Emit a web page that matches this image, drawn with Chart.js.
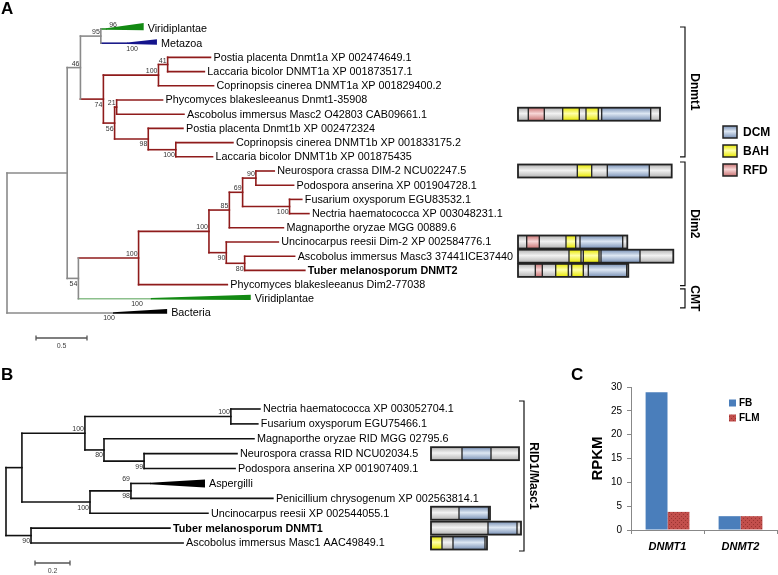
<!DOCTYPE html>
<html>
<head>
<meta charset="utf-8">
<script src="https://cdn.jsdelivr.net/npm/chart.js@4.4.1/dist/chart.umd.min.js"></script>
<style>
  body { margin: 0; background: #fff; }
  #fig { position: relative; width: 778px; height: 575px; overflow: hidden; }
  #fig canvas { position: absolute; }
  .panel { position: absolute; font: bold 17px "Liberation Sans", Arial, sans-serif; line-height: 1; }
</style>
</head>
<body>
<div id="fig">
  <canvas id="treeA" width="778" height="352" style="left:0;top:0"></canvas>
  <canvas id="treeB" width="575" height="215" style="left:0;top:360px"></canvas>
  <canvas id="rpkm" width="203" height="205" style="left:575px;top:370px"></canvas>
  <div class="panel" style="left:1px;top:0px">A</div>
  <div class="panel" style="left:1px;top:366px">B</div>
  <div class="panel" style="left:571px;top:366px">C</div>
</div>
<script>
// Tree A: [id, parent, branch length, bootstrap, collapsed clade length, label]
const treeARows = [
  ['root', null, 0],
  ['n1', 'root', 0.59],
  ['n46', 'n1', 0.13, 46],
  ['n95', 'n46', 0.20, 95],
  ['Viridiplantae', 'n95', 0.05, 96, 0.37],
  ['Metazoa', 'n95', 0.26, 100, 0.29],
  ['n74', 'n46', 0.225, 74],
  ['n100a', 'n74', 0.54, 100],
  ['n41', 'n100a', 0.09, 41],
  ['Postia placenta Dnmt1a XP 002474649.1', 'n41', 0.42],
  ['Laccaria bicolor DNMT1a XP 001873517.1', 'n41', 0.36],
  ['Coprinopsis cinerea DNMT1a XP 001829400.2', 'n100a', 0.54],
  ['n56', 'n74', 0.11, 56],
  ['n21', 'n56', 0.02, 21],
  ['Phycomyces blakesleeanus Dnmt1-35908', 'n21', 0.45],
  ['Ascobolus immersus Masc2 O42803 CAB09661.1', 'n21', 0.66],
  ['n98', 'n56', 0.33, 98],
  ['Postia placenta Dnmt1b XP 002472324', 'n98', 0.34],
  ['n100b', 'n98', 0.27, 100],
  ['Coprinopsis cinerea DNMT1b XP 001833175.2', 'n100b', 0.56],
  ['Laccaria bicolor DNMT1b XP 001875435', 'n100b', 0.36],
  ['n54', 'n1', 0.11, 54],
  ['n100c', 'n54', 0.59, 100],
  ['n100d', 'n100c', 0.69, 100],
  ['n85', 'n100d', 0.20, 85],
  ['n69', 'n85', 0.13, 69],
  ['n90b', 'n69', 0.13, 90],
  ['Neurospora crassa DIM-2 NCU02247.5', 'n90b', 0.18],
  ['Podospora anserina XP 001904728.1', 'n90b', 0.37],
  ['n100e', 'n69', 0.46, 100],
  ['Fusarium oxysporum EGU83532.1', 'n100e', 0.12],
  ['Nectria haematococca XP 003048231.1', 'n100e', 0.19],
  ['Magnaporthe oryzae MGG 00889.6', 'n85', 0.53],
  ['n90', 'n100d', 0.17, 90],
  ['Uncinocarpus reesii Dim-2 XP 002584776.1', 'n90', 0.51],
  ['n80', 'n90', 0.18, 80],
  ['Ascobolus immersus Masc3 37441ICE37440', 'n80', 0.49],
  ['Tuber melanosporum DNMT2', 'n80', 0.59],
  ['Phycomyces blakesleeanus Dim2-77038', 'n100c', 0.87],
  ['cmt', 'n54', 0.71, 100, 0.98, 'Viridiplantae'],
  ['Bacteria', 'root', 1.04, 100, 0.53]
];

// Tree B (RID/Masc1)
const treeBRows = [
  ['root', null, 0],
  ['nX', 'root', 0.091],
  ['n100', 'nX', 0.36, 100],
  ['n100n', 'n100', 0.834, 100],
  ['Nectria haematococca XP 003052704.1', 'n100n', 0.166],
  ['Fusarium oxysporum EGU75466.1', 'n100n', 0.154],
  ['n80', 'n100', 0.109, 80],
  ['Magnaporthe oryzae RID MGG 02795.6', 'n80', 0.857],
  ['n99', 'n80', 0.229, 99],
  ['Neurospora crassa RID NCU02034.5', 'n99', 0.531],
  ['Podospora anserina XP 001907409.1', 'n99', 0.52],
  ['n100b', 'nX', 0.389, 100],
  ['n98', 'n100b', 0.234, 98],
  ['Aspergilli', 'n98', 0.109, 69, 0.314],
  ['Penicillium chrysogenum XP 002563814.1', 'n98', 0.811],
  ['Uncinocarpus reesii XP 002544055.1', 'n100b', 0.674],
  ['nT', 'root', 0.143, 90],
  ['Tuber melanosporum DNMT1', 'nT', 0.794],
  ['Ascobolus immersus Masc1 AAC49849.1', 'nT', 0.869]
];

// domain architectures (residue positions)
const domainLeavesA = ['Ascobolus immersus Masc2 O42803 CAB09661.1', 'Neurospora crassa DIM-2 NCU02247.5',
  'Uncinocarpus reesii Dim-2 XP 002584776.1', 'Ascobolus immersus Masc3 37441ICE37440', 'Tuber melanosporum DNMT2'];
const proteinLengthsA = [1420, 1537, 1093, 1553, 1103];
const domainsA = [
  [['RFD', 103, 263], ['BAH', 447, 613], ['BAH', 680, 803], ['DCM', 837, 1327]],
  [['BAH', 593, 737], ['DCM', 893, 1313]],
  [['RFD', 87, 213], ['BAH', 480, 577], ['DCM', 620, 1047]],
  [['BAH', 510, 630], ['BAH', 653, 810], ['DCM', 830, 1220]],
  [['RFD', 173, 243], ['BAH', 377, 503], ['BAH', 537, 653], ['DCM', 703, 1087]]
];
const domainLeavesB = ['Neurospora crassa RID NCU02034.5', 'Uncinocarpus reesii XP 002544055.1',
  'Tuber melanosporum DNMT1', 'Ascobolus immersus Masc1 AAC49849.1'];
const proteinLengthsB = [880, 590, 900, 560];
const domainsB = [
  [['DCM', 310, 600]],
  [['DCM', 280, 575]],
  [['DCM', 570, 860]],
  [['BAH', 0, 110], ['DCM', 220, 540]]
];

const groupsA = ['Dnmt1', 'Dim2', 'CMT'];
const groupLeafRangesA = [[0, 9], [10, 18], [19, 19]];
const groupsB = ['RID1/Masc1'];
const groupLeafRangesB = [[0, 9]];
const domainTypes = ['DCM', 'BAH', 'RFD'];
const scaleBarA = 0.5;
const scaleBarB = 0.2;

// Panel C
const genes = ['DNMT1', 'DNMT2'];
const fbValues = [28.9, 2.9];
const flmValues = [3.8, 2.9];

const FONT = '"Liberation Sans", Arial, Helvetica, sans-serif';
Chart.defaults.font.family = FONT;

const GRAY = '#8a8a8a';
const RED = '#8f1b1b';
const DOMAIN_FILL = {
  gray: ['#b2b2b2', '#f2f2f2'],
  DCM: ['#7890b5', '#dde7f3'],
  BAH: ['#e6e600', '#ffffa8'],
  RFD: ['#c87272', '#f7d6d6']
};

function buildTree(rows) {
  const byId = {};
  const order = rows.map(r => {
    const n = { id: r[0], parentId: r[1], len: r[2], support: r[3] == null ? null : r[3],
      tri: r[4] || 0, label: r[5] || r[0], children: [] };
    byId[n.id] = n;
    return n;
  });
  order.forEach(n => {
    if (n.parentId) { n.parent = byId[n.parentId]; n.parent.children.push(n); }
  });
  let leaf = 0;
  (function walk(n, x) {
    n.x = x;
    if (!n.children.length) { n.y = leaf++; return; }
    n.children.forEach(c => walk(c, x + c.len));
    n.y = (n.children[0].y + n.children[n.children.length - 1].y) / 2;
  })(order[0], 0);
  return { order, byId, leaves: order.filter(n => !n.children.length) };
}

function segmentDatasets(tree, colorFn, width) {
  const ds = [];
  const line = (pts, color) => ds.push({
    data: pts, showLine: true, borderColor: color, borderWidth: width,
    pointRadius: 0, pointHoverRadius: 0, borderCapStyle: 'square', clip: false
  });
  tree.order.forEach(n => {
    if (n.parent) line([{ x: n.parent.x, y: n.y }, { x: n.x, y: n.y }], colorFn(n));
    if (n.children.length) {
      const last = n.children[n.children.length - 1];
      line([{ x: n.x, y: n.children[0].y }, { x: n.x, y: last.y }], colorFn(n));
    }
  });
  return ds;
}

function fillBand(ctx, x0, x1, top, h, type) {
  const g = ctx.createLinearGradient(0, top, 0, top + h);
  g.addColorStop(0, DOMAIN_FILL[type][0]);
  g.addColorStop(0.45, DOMAIN_FILL[type][1]);
  g.addColorStop(1, DOMAIN_FILL[type][0]);
  ctx.fillStyle = g;
  ctx.fillRect(x0, top, x1 - x0, h);
}

function drawProtein(ctx, D, y, len, parts) {
  const h = 13, top = y - 6.5;
  const x0 = D.getPixelForValue(0), x1 = D.getPixelForValue(len);
  fillBand(ctx, x0, x1, top, h, 'gray');
  ctx.strokeStyle = '#222';
  ctx.lineWidth = 1.3;
  parts.forEach(([t, s, e]) => {
    const a = D.getPixelForValue(s), b = D.getPixelForValue(e);
    fillBand(ctx, a, b, top, h, t);
    ctx.beginPath();
    ctx.moveTo(a, top); ctx.lineTo(a, top + h);
    ctx.moveTo(b, top); ctx.lineTo(b, top + h);
    ctx.stroke();
  });
  ctx.lineWidth = 1.8;
  ctx.strokeRect(x0, top, x1 - x0, h);
}

function treeDeco(tree, cfg) {
  return {
    id: 'treeDeco',
    afterDatasetsDraw(chart) {
      const ctx = chart.ctx;
      const X = chart.scales.x, Y = chart.scales.y, D = chart.scales.xd;
      const px = v => X.getPixelForValue(v), py = v => Y.getPixelForValue(v);
      ctx.save();

      // collapsed clades
      tree.leaves.filter(n => n.tri).forEach(n => {
        const x0 = px(n.x), x1 = px(n.x + n.tri), y = py(n.y);
        const [up, down] = cfg.triShape[n.id];
        ctx.fillStyle = cfg.triColor[n.id];
        ctx.beginPath();
        ctx.moveTo(x0, y - 0.8);
        ctx.lineTo(x1, y - up);
        ctx.lineTo(x1, y + down);
        ctx.lineTo(x0, y + 0.8);
        ctx.closePath();
        ctx.fill();
      });

      // leaf names
      ctx.fillStyle = '#000';
      ctx.textAlign = 'left';
      ctx.textBaseline = 'middle';
      tree.leaves.forEach(n => {
        ctx.font = (cfg.bold.includes(n.id) ? 'bold ' : '') + '10.8px ' + FONT;
        ctx.fillText(n.label, px(n.x + n.tri) + (n.tri ? 4 : 3), py(n.y) + 0.5);
      });

      // bootstrap values
      ctx.font = '7px ' + FONT;
      ctx.fillStyle = '#333';
      ctx.textAlign = 'right';
      tree.order.forEach(n => {
        if (n.support == null) return;
        let x = px(n.x);
        if (!n.children.length) x = px(n.parent.x + (cfg.supportFrac[n.id] || 0) * (n.len + n.tri));
        const y = py(n.y);
        if (cfg.below.includes(n.id)) {
          ctx.textBaseline = 'top';
          ctx.fillText(String(n.support), x - 1, y + 2);
        } else {
          ctx.textBaseline = 'alphabetic';
          ctx.fillText(String(n.support), x - 1, y - 2);
        }
      });

      // domain diagrams
      cfg.domainLeaves.forEach((name, i) => {
        drawProtein(ctx, D, py(tree.byId[name].y), cfg.lengths[i], cfg.domains[i]);
      });

      // group brackets
      ctx.strokeStyle = '#111';
      ctx.lineWidth = 1.2;
      cfg.groups.forEach((g, i) => {
        const [a, b] = cfg.groupRanges[i];
        const [pt, pb] = cfg.bracketPad[i];
        const top = py(a) - pt, bot = py(b) + pb, bx = cfg.bracketX;
        ctx.beginPath();
        ctx.moveTo(bx - 5, top); ctx.lineTo(bx, top); ctx.lineTo(bx, bot); ctx.lineTo(bx - 5, bot);
        ctx.stroke();
        ctx.save();
        ctx.translate(bx + 9, (top + bot) / 2);
        ctx.rotate(Math.PI / 2);
        ctx.fillStyle = '#000';
        ctx.font = 'bold 12px ' + FONT;
        ctx.textAlign = 'center';
        ctx.textBaseline = 'middle';
        ctx.fillText(g, 0, 0);
        ctx.restore();
      });

      // scale bar
      const len = px(cfg.scaleBar) - px(0);
      const [sx, sy] = cfg.scalePos;
      ctx.strokeStyle = '#555';
      ctx.lineWidth = 1.3;
      ctx.beginPath();
      ctx.moveTo(sx, sy); ctx.lineTo(sx + len, sy);
      ctx.moveTo(sx, sy - 2.5); ctx.lineTo(sx, sy + 2.5);
      ctx.moveTo(sx + len, sy - 2.5); ctx.lineTo(sx + len, sy + 2.5);
      ctx.stroke();
      ctx.fillStyle = '#444';
      ctx.font = '7px ' + FONT;
      ctx.textAlign = 'center';
      ctx.textBaseline = 'top';
      ctx.fillText(String(cfg.scaleBar), sx + len / 2, sy + 5);

      if (cfg.legend) cfg.legend(ctx);
      ctx.restore();
    }
  };
}

function makeTree(canvasId, tree, geo, colorFn, deco) {
  const cv = document.getElementById(canvasId);
  const W = cv.width, H = cv.height;
  const xmin = -geo.rootX / geo.unitPx;
  const ymin = -geo.row0 / geo.rowPx;
  return new Chart(cv, {
    type: 'scatter',
    data: { datasets: segmentDatasets(tree, colorFn, geo.lineW) },
    options: {
      responsive: false,
      animation: false,
      events: [],
      layout: { padding: 0 },
      plugins: { legend: { display: false }, tooltip: { enabled: false } },
      scales: {
        x: { type: 'linear', display: false, min: xmin, max: xmin + W / geo.unitPx },
        y: { type: 'linear', display: false, reverse: true, min: ymin, max: ymin + H / geo.rowPx },
        xd: { type: 'linear', axis: 'x', display: false,
              min: -geo.domainX * geo.aaPerPx, max: (W - geo.domainX) * geo.aaPerPx }
      }
    },
    plugins: [deco]
  });
}

// ---------- Panel A ----------
const treeA = buildTree(treeARows);
const redRootsA = ['n74', 'n100c'];
const stemColorA = { Viridiplantae: '#1d8a1d', Metazoa: '#1c1c8a', cmt: '#8cc08c', Bacteria: GRAY };
function colorA(n) {
  if (stemColorA[n.id]) return stemColorA[n.id];
  for (let p = n; p; p = p.parent) if (redRootsA.includes(p.id)) return RED;
  return GRAY;
}
makeTree('treeA', treeA, { rootX: 7, unitPx: 102, row0: 29, rowPx: 14.2, lineW: 1.6, domainX: 518, aaPerPx: 10 }, colorA,
  treeDeco(treeA, {
    triShape: { Viridiplantae: [6, 1.2], Metazoa: [4, 1.5], cmt: [4, 1.2], Bacteria: [4, 0.8] },
    triColor: { Viridiplantae: '#138a13', Metazoa: '#14148c', cmt: '#138a13', Bacteria: '#000' },
    bold: ['Tuber melanosporum DNMT2'],
    below: ['n74', 'n56', 'n98', 'n100b', 'n100e', 'n90', 'n80', 'n54', 'Metazoa', 'cmt', 'Bacteria'],
    supportFrac: { Viridiplantae: 0.4, Metazoa: 0.68, cmt: 0.38, Bacteria: 0.68 },
    domainLeaves: domainLeavesA, lengths: proteinLengthsA, domains: domainsA,
    groups: groupsA, groupRanges: groupLeafRangesA, bracketPad: [[2, 0], [9, 1], [10, 9]], bracketX: 685,
    scaleBar: scaleBarA, scalePos: [36, 338],
    legend(ctx) {
      domainTypes.forEach((t, i) => {
        const top = 126 + i * 19;
        fillBand(ctx, 723, 737, top, 12, t);
        ctx.strokeStyle = '#222';
        ctx.lineWidth = 1.5;
        ctx.strokeRect(723, top, 14, 12);
        ctx.fillStyle = '#000';
        ctx.font = 'bold 12px ' + FONT;
        ctx.textAlign = 'left';
        ctx.textBaseline = 'middle';
        ctx.fillText(t, 743, top + 6.5);
      });
    }
  }));

// ---------- Panel B ----------
const treeB = buildTree(treeBRows);
makeTree('treeB', treeB, { rootX: 6, unitPx: 175, row0: 49, rowPx: 14.89, lineW: 1.6, domainX: 431, aaPerPx: 10 },
  () => '#111',
  treeDeco(treeB, {
    triShape: { Aspergilli: [4, 4] },
    triColor: { Aspergilli: '#000' },
    bold: ['Tuber melanosporum DNMT1'],
    below: ['n80', 'n99', 'n100b', 'n98', 'nT'],
    supportFrac: { Aspergilli: 0 },
    domainLeaves: domainLeavesB, lengths: proteinLengthsB, domains: domainsB,
    groups: groupsB, groupRanges: groupLeafRangesB, bracketPad: [[8, 8]], bracketX: 524,
    scaleBar: scaleBarB, scalePos: [35, 203]
  }));

// ---------- Panel C ----------
const cCanvas = document.getElementById('rpkm');
const dots = document.createElement('canvas');
dots.width = 4; dots.height = 4;
const dctx = dots.getContext('2d');
dctx.fillStyle = '#c24f4c';
dctx.fillRect(0, 0, 4, 4);
dctx.fillStyle = '#9a3431';
dctx.fillRect(0, 0, 1, 1);
dctx.fillRect(2, 2, 1, 1);
const flmPattern = cCanvas.getContext('2d').createPattern(dots, 'repeat');

const legendC = {
  id: 'legendC',
  afterDraw(chart) {
    const ctx = chart.ctx;
    ctx.save();
    chart.data.datasets.forEach((d, i) => {
      const y = 33 + i * 15;
      ctx.fillStyle = d.backgroundColor;
      ctx.fillRect(154, y - 3.5, 7, 7);
      ctx.fillStyle = '#000';
      ctx.font = 'bold 10px ' + FONT;
      ctx.textAlign = 'left';
      ctx.textBaseline = 'middle';
      ctx.fillText(d.label, 164, y);
    });
    ctx.restore();
  }
};

new Chart(cCanvas, {
  type: 'bar',
  data: {
    labels: genes,
    datasets: [
      { label: 'FB', data: fbValues, backgroundColor: '#4a7ebb', categoryPercentage: 0.6, barPercentage: 1 },
      { label: 'FLM', data: flmValues, backgroundColor: flmPattern, categoryPercentage: 0.6, barPercentage: 1 }
    ]
  },
  options: {
    responsive: false,
    animation: false,
    events: [],
    layout: { padding: { top: 17, right: 1, left: 0, bottom: 0 } },
    plugins: { legend: { display: false }, tooltip: { enabled: false } },
    scales: {
      x: {
        grid: { drawOnChartArea: false, tickLength: 4, color: '#888' },
        border: { color: '#888' },
        ticks: { color: '#000', padding: 6, font: { size: 11, weight: 'bold', style: 'italic' } },
        afterFit(s) { s.height = 45; }
      },
      y: {
        min: 0, max: 30,
        grid: { drawOnChartArea: false, tickLength: 4, color: '#888' },
        border: { color: '#888' },
        ticks: { stepSize: 5, color: '#000', padding: 5, font: { size: 10 } },
        title: { display: true, text: 'RPKM', color: '#000', font: { size: 15, weight: 'bold' }, padding: { top: 14, bottom: 0 } },
        afterFit(s) { s.width = 56; }
      }
    }
  },
  plugins: [legendC]
});
</script>
</body>
</html>
